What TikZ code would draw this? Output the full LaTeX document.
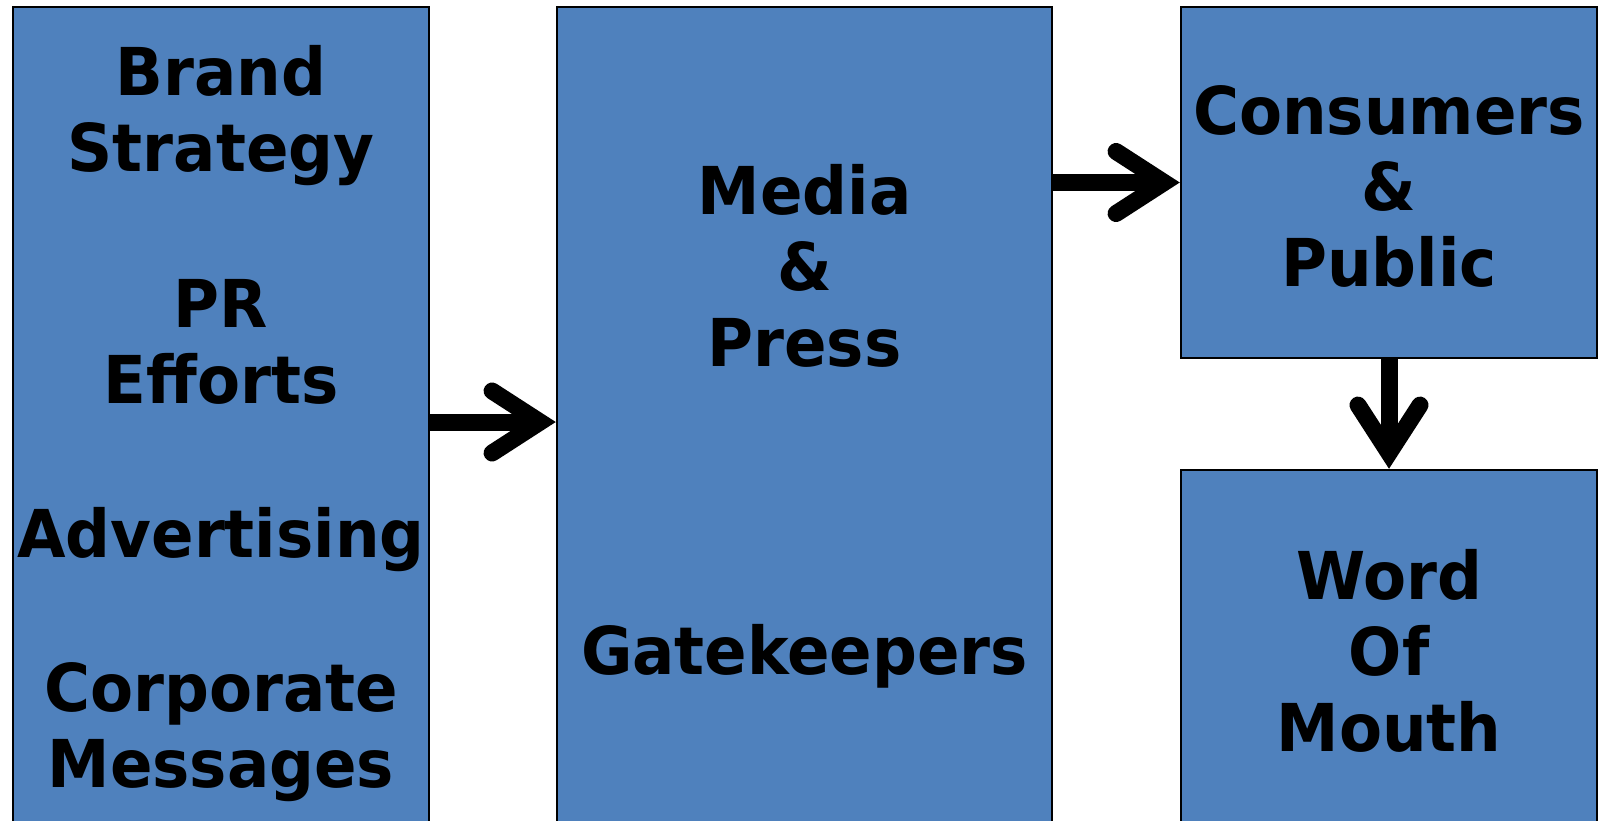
\documentclass[tikz,border=0pt]{standalone}
\usepackage{fontspec}
\newfontfamily\labelfont[FakeStretch=0.95]{DejaVu Sans Bold}
\definecolor{boxblue}{HTML}{4F81BD}
\usepackage{tikz}
\usetikzlibrary{positioning, arrows.meta, calc}
\tikzset{
	blockbox/.style={
			shape=rectangle,
			draw=black,
			line width=2.5pt,
			fill=boxblue,
			inner sep=0pt
		},
	labeltext/.style={
			anchor=base,
			align=center,
			inner sep=0pt,
			font=\labelfont\fontsize{66}{76}\selectfont
		},
	flowarrow/.style={
			line width=17pt,
			-{Straight Barb[length=48pt, width=62pt, line cap=round]}
		}
}
\begin{document}
\begin{tikzpicture}[x=1pt, y=-1pt]

  \path[use as bounding box, clip] (0,0) rectangle (1602,820);
  \fill[white] (0,0) rectangle (1602,820);

  \node[blockbox, minimum width=416pt, minimum height=830pt] (sources) at (221,422) {};
  \node[blockbox, minimum width=495pt, minimum height=830pt] (media) at (804.5,422) {};
  \node[blockbox, minimum width=416pt, minimum height=351pt] (public) at (1389,182.5) {};
  \node[blockbox, minimum width=416pt, minimum height=367pt] (mouth) at (1389,653.5) {};

  % base anchor sits on the last line
  \node[labeltext] (l1) at (221,171.5) {Brand\\Strategy};
  \node[labeltext] (l2) at (221,403.5) {PR\\Efforts};
  \node[labeltext] (l3) at (221,557) {Advertising};
  \node[labeltext] (l4) at (221,787) {Corporate\\Messages};

  \node[labeltext] (l5) at (804.5,366) {Media\\\&\\Press};
  \node[labeltext] (l6) at (804.5,674) {Gatekeepers};

  \node[labeltext] (l7) at (1389,286) {Consumers\\\&\\Public};
  \node[labeltext] (l8) at (1389,751) {Word\\Of\\Mouth};

  \draw[flowarrow] (sources.east) -- (media.west);
  \draw[flowarrow] (media.east |- public.west) -- (public.west);
  \draw[flowarrow] (public.south) -- (mouth.north);

\end{tikzpicture}
\end{document}
